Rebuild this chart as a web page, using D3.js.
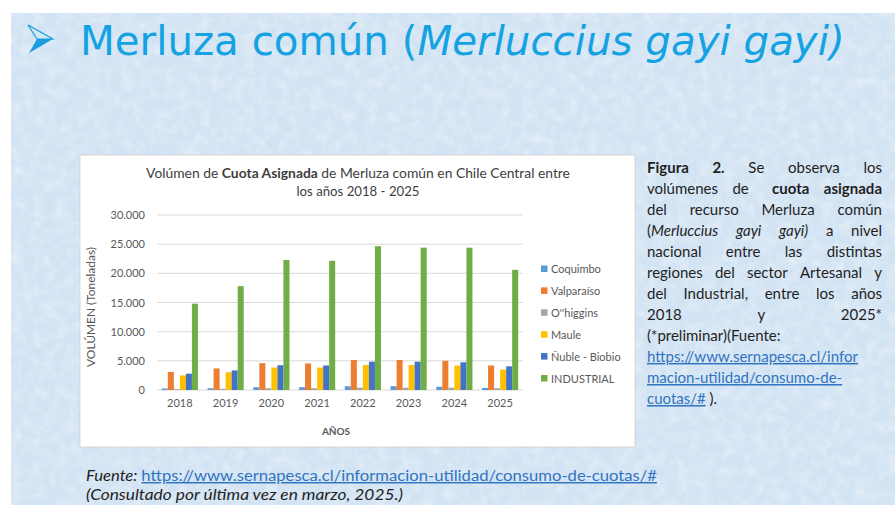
<!DOCTYPE html>
<html><head><meta charset="utf-8">
<script src="https://cdn.jsdelivr.net/npm/d3@7"></script>
<style>html,body{margin:0;padding:0;background:#fff;}svg{display:block;}</style>
</head><body>
<svg id="c" width="895" height="505"></svg>
<script>
// ---- data ----
const years = ["2018","2019","2020","2021","2022","2023","2024","2025"];
const seriesNames = ["Coquimbo","Valparaíso","O''higgins","Maule","Ñuble - Biobio","INDUSTRIAL"];
const coquimbo   = [250, 300, 480, 480, 650, 650, 550, 350];
const valparaiso = [3100, 3700, 4600, 4550, 5150, 5150, 5000, 4200];
const ohiggins   = [150, 200, 300, 300, 400, 400, 400, 300];
const maule      = [2500, 3050, 3850, 3850, 4300, 4300, 4200, 3500];
const nuble      = [2800, 3350, 4250, 4200, 4850, 4850, 4750, 4050];
const industrial = [14800, 17800, 22300, 22150, 24650, 24400, 24400, 20600];
const yTicks = [0, 5000, 10000, 15000, 20000, 25000, 30000];
const seriesColors = ["#5B9BD5","#ED7D31","#A5A5A5","#FFC000","#4472C4","#70AD47"];
const allSeries = [coquimbo, valparaiso, ohiggins, maule, nuble, industrial];

const svg = d3.select("#c");
const FONT = "Lato, 'Open Sans', sans-serif";

function fit(sel, target){
  const w = sel.node().getComputedTextLength();
  const fs = parseFloat(sel.attr("font-size"));
  sel.attr("font-size", (fs*target/w).toFixed(2));
}
function stretch(sel, target){
  sel.attr("textLength", target).attr("lengthAdjust","spacingAndGlyphs");
}

// ---- slide background ----
const defs = svg.append("defs");
const f = defs.append("filter").attr("id","tex").attr("x",0).attr("y",0).attr("width","100%").attr("height","100%");
f.append("feTurbulence").attr("type","fractalNoise").attr("baseFrequency","0.09").attr("numOctaves",3).attr("seed",4).attr("result","n");
f.append("feColorMatrix").attr("in","n").attr("type","matrix")
 .attr("values","0 0 0 0 1  0 0 0 0 1  0 0 0 0 1  1.2 0 0 0 -0.45");
svg.append("rect").attr("x",0).attr("y",0).attr("width",895).attr("height",505).attr("fill","#fff");
svg.append("rect").attr("x",11).attr("y",13).attr("width",884).attr("height",492).attr("fill","#d2e3f3");
svg.append("rect").attr("x",11).attr("y",13).attr("width",884).attr("height",492).attr("filter","url(#tex)").attr("opacity",0.6);

// bullet arrow
svg.append("path").attr("d","M28,25 L53,39 L37,39 Z").attr("fill","#cfe8f7").attr("stroke","#1a9ddc").attr("stroke-width",1.2);
svg.append("path").attr("d","M37,39 L53,39 L29,53 Z").attr("fill","#1a9ddc");

// title
const title = svg.append("text").attr("x",80).attr("y",55).attr("font-family","'DejaVu Sans', sans-serif")
  .attr("font-size",44).attr("fill","#14a2e3");
title.append("tspan").text("Merluza común (");
title.append("tspan").attr("font-style","italic").text("Merluccius gayi gayi)");
fit(title, 765);

// ---- chart box ----
svg.append("rect").attr("x",80).attr("y",155).attr("width",555).attr("height",292)
  .attr("fill","#fff").attr("stroke","#d0d0d0").attr("stroke-width",0.8);

const ct = svg.append("text").attr("x",358).attr("y",178).attr("text-anchor","middle")
  .attr("font-family",FONT).attr("font-size",13).attr("fill","#404040");
ct.append("tspan").text("Volúmen de ");
ct.append("tspan").attr("font-weight","bold").text("Cuota Asignada");
ct.append("tspan").text(" de Merluza común en Chile Central entre");
fit(ct, 424);
const ct2 = svg.append("text").attr("x",358).attr("y",196).attr("text-anchor","middle")
  .attr("font-family",FONT).attr("font-size",13).attr("fill","#404040").text("los años 2018 - 2025");
fit(ct2, 123);

const x = d3.scaleBand().domain(years).range([157,523]).paddingInner(0.21).paddingOuter(0.105);
const xs = d3.scaleBand().domain(d3.range(seriesNames.length)).range([0, x.bandwidth()]);
const y = d3.scaleLinear().domain([0,30000]).range([390,215]);

// gridlines
svg.append("g").selectAll("line").data(yTicks).join("line")
  .attr("x1",157).attr("x2",523).attr("y1",d=>y(d)).attr("y2",d=>y(d))
  .attr("stroke","#d9d9d9").attr("stroke-width",1);

// y axis labels
const yAxis = d3.axisLeft(y).tickValues(yTicks).tickSize(0).tickPadding(0)
  .tickFormat(d => d===0 ? "0" : d3.format(",")(d).replace(/,/g,"."));
const ya = svg.append("g").attr("transform","translate(145,0)").call(yAxis);
ya.select(".domain").remove();
ya.selectAll("text").attr("font-family",FONT).attr("font-size",11).attr("fill","#595959");

// x axis labels
const xAxis = d3.axisBottom(x).tickSize(0).tickPadding(0);
const xa = svg.append("g").attr("transform","translate(0,399)").call(xAxis);
xa.select(".domain").remove();
xa.selectAll("text").attr("font-family",FONT).attr("font-size",11).attr("fill","#595959");

// bars
const groups = svg.append("g").selectAll("g").data(years).join("g")
  .attr("transform", d => `translate(${x(d)},0)`);
groups.selectAll("rect").data((d,i) => allSeries.map((s,k) => ({k, v: s[i]}))).join("rect")
  .attr("x", d => xs(d.k)).attr("width", xs.bandwidth())
  .attr("y", d => y(d.v)).attr("height", d => y(0) - y(d.v))
  .attr("fill", d => seriesColors[d.k]);

// axis titles
const yt = svg.append("text").attr("transform","translate(95,307) rotate(-90)").attr("text-anchor","middle")
  .attr("font-family",FONT).attr("font-size",10.5).attr("fill","#595959").text("VOLÚMEN  (Toneladas)");
fit(yt, 120);
svg.append("text").attr("x",336).attr("y",435).attr("text-anchor","middle").attr("font-family",FONT)
  .attr("font-size",10).attr("font-weight","bold").attr("fill","#595959").text("AÑOS");

// legend
const leg = svg.append("g").selectAll("g").data(seriesNames).join("g")
  .attr("transform",(d,i)=>`translate(541,${269 + i*21.9})`);
leg.append("rect").attr("x",0).attr("y",-3.5).attr("width",6.5).attr("height",6.5).attr("fill",(d,i)=>seriesColors[i]);
leg.append("text").attr("x",10).attr("y",4).attr("font-family",FONT).attr("font-size",11).attr("fill","#595959").text(d=>d);

// ---- right text block ----
const X0 = 647, X1 = 882, LH = 21.05, Y0 = 172.5;
const para = [
  {j:true, w:[[["Figura","b"]],[["2.","b"]],[["Se"]],[["observa"]],[["los"]]]},
  {j:true, w:[[["volúmenes"]],[["de"]],[["cuota","b"]],[["asignada","b"]]], gaps:[1,1.6,1]},
  {j:true, w:[[["del"]],[["recurso"]],[["Merluza"]],[["común"]]]},
  {j:true, w:[[["("],["Merluccius","i"]],[["gayi","i"]],[["gayi)","i"]],[["a"]],[["nivel"]]]},
  {j:true, w:[[["nacional"]],[["entre"]],[["las"]],[["distintas"]]]},
  {j:true, w:[[["regiones"]],[["del"]],[["sector"]],[["Artesanal"]],[["y"]]]},
  {j:true, w:[[["del"]],[["Industrial,"]],[["entre"]],[["los"]],[["años"]]]},
  {j:true, w:[[["2018"]],[["y"]],[["2025*"]]]},
  {j:false, w:[[["(*preliminar)(Fuente:"]]]},
  {j:false, w:[[["https://www.sernapesca.cl/infor","l"]]]},
  {j:false, w:[[["macion-utilidad/consumo-de-","l"]]]},
  {j:false, w:[[["cuotas/#","l"],[" )."]]]}
];
const tb = svg.append("g");
para.forEach((line, li) => {
  const yy = Y0 + li*LH;
  const nodes = line.w.map(word => {
    const t = tb.append("text").attr("y",yy).attr("font-family",FONT).attr("font-size",15).attr("fill","#1f1f1f");
    word.forEach(([s,st]) => {
      const sp = t.append("tspan").text(s);
      if (st==="b") sp.attr("font-weight","bold");
      if (st==="i") sp.attr("font-style","italic");
      if (st==="l") sp.attr("fill","#2f74c0").attr("text-decoration","underline");
    });
    return t;
  });
  const widths = nodes.map(n => n.node().getComputedTextLength());
  if (line.j && nodes.length>1) {
    const gw = line.gaps || d3.range(nodes.length-1).map(()=>1);
    const free = (X1-X0) - d3.sum(widths);
    const unit = free / d3.sum(gw);
    let cx = X0;
    nodes.forEach((n,i)=>{ n.attr("x",cx); cx += widths[i] + (i<gw.length ? gw[i]*unit : 0); });
  } else {
    nodes.forEach(n => n.attr("x", X0));
  }
});

// ---- footer ----
const f1 = svg.append("text").attr("x",86).attr("y",481).attr("font-family",FONT).attr("font-size",14.5).attr("fill","#1f1f1f");
f1.append("tspan").attr("font-style","italic").text("Fuente: ");
f1.append("tspan").attr("fill","#2f74c0").attr("text-decoration","underline").text("https://www.sernapesca.cl/informacion-utilidad/consumo-de-cuotas/#");
stretch(f1, 571);
const f2 = svg.append("text").attr("x",86).attr("y",500).attr("font-family",FONT).attr("font-size",14.5)
  .attr("font-style","italic").attr("fill","#1f1f1f").text("(Consultado por última vez en marzo, 2025.)");
stretch(f2, 317);
</script>
</body></html>
